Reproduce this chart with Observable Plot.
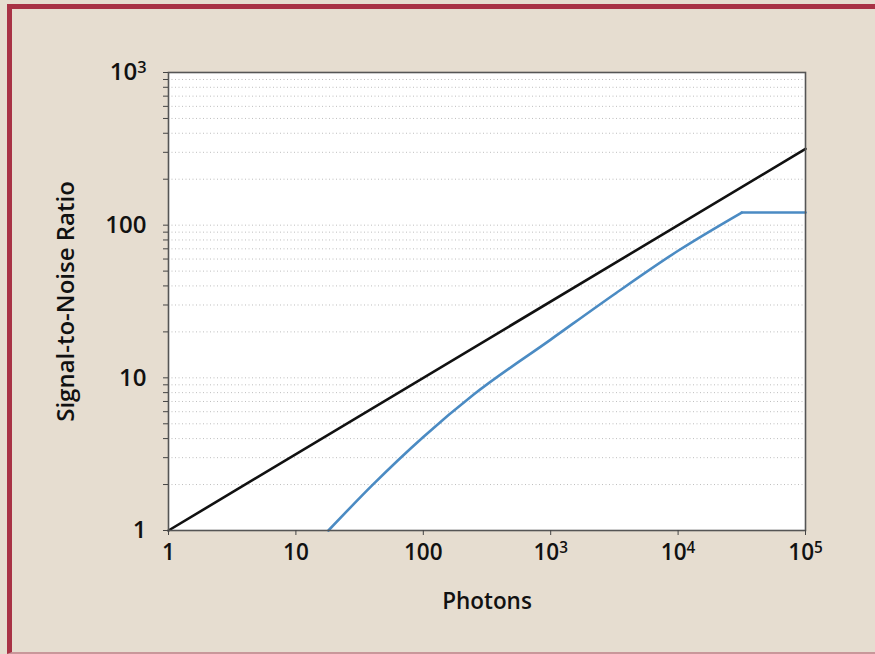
<!DOCTYPE html>
<html>
<head>
<meta charset="utf-8">
<script src="https://cdn.jsdelivr.net/npm/d3@7"></script>
<script src="https://cdn.jsdelivr.net/npm/@observablehq/plot@0.6"></script>
<style>
  html, body { margin: 0; padding: 0; width: 875px; height: 654px; overflow: hidden; background: #e6ddd0; }
  #border { position: absolute; left: 7px; top: 4px; width: 900px; height: 643px; border-top: 5px solid #a83245; border-left: 5px solid #a83245; border-bottom: 2px solid #c9979a; }
  #chart { position: absolute; left: 0; top: 0; }
</style>
</head>
<body>
<div id="border"></div>
<div id="chart"></div>
<script>
// Ideal (shot-noise-limited) detector
const idealPhotons = [1, 100000];
const idealSNR = [1, 316];

const realPhotons = [18, 40, 100, 250, 1000, 3160, 10000, 31600];
const realSNR =     [1, 1.99, 4.1, 7.8, 17.8, 35.3, 68, 121];
const plateauPhotons = [31600, 100000];
const plateauSNR = [121, 121];

const xTicks = [1, 10, 100, 1000, 10000, 100000];
const xTickLabels = ["1", "10", "100", "10³", "10⁴", "10⁵"];
const yTicks = [1, 10, 100, 1000];
const yTickLabels = ["1", "10", "100", "10³"];

const ideal = idealPhotons.map((p, i) => ({p, s: idealSNR[i]}));
const real = realPhotons.map((p, i) => ({p, s: realSNR[i]}));
const plateau = plateauPhotons.map((p, i) => ({p, s: plateauSNR[i]}));
const yAll = d3.scaleLog().domain([1, 1000]).ticks().filter(v => v > 1 && v < 1000);
const yMinor = yAll.filter(v => !yTicks.includes(v));

const chart = Plot.plot({
  width: 875,
  height: 654,
  marginLeft: 168,
  marginRight: 70,
  marginTop: 72,
  marginBottom: 124,
  style: {background: "transparent", fontFamily: "'Open Sans', Lato, sans-serif", fontSize: "19px", fontWeight: "600", color: "#111"},
  x: {type: "log", domain: [1, 100000]},
  y: {type: "log", domain: [1, 1000]},
  marks: [
    Plot.frame({fill: "white", stroke: null}),
    Plot.gridY(yAll, {stroke: "#a8a8a8", strokeOpacity: 0.75, strokeDasharray: "1,2.5", strokeWidth: 1}),
    Plot.line(real, {x: "p", y: "s", stroke: "#4b8bc3", strokeWidth: 2.6, curve: "monotone-x"}),
    Plot.line(plateau, {x: "p", y: "s", stroke: "#4b8bc3", strokeWidth: 2.6}),
    Plot.line(ideal, {x: "p", y: "s", stroke: "#111", strokeWidth: 2.6}),
    Plot.frame({stroke: "#555", strokeWidth: 1.6}),
    Plot.axisY(yMinor, {tickSize: 5, text: null, stroke: "#444", label: null}),
    Plot.axisY(yTicks, {tickSize: 5, tickPadding: 17, stroke: "#444",
      tickFormat: d => yTickLabels[yTicks.indexOf(d)],
      label: "Signal-to-Noise Ratio", labelAnchor: "center", labelArrow: "none", labelOffset: 112, fontSize: 24}),
    Plot.axisX(xTicks, {tickSize: 5, tickPadding: 9, stroke: "#444",
      tickFormat: d => xTickLabels[xTicks.indexOf(d)],
      label: "Photons", labelAnchor: "center", labelArrow: "none", labelOffset: 78, fontSize: 22.5})
  ]
});

// Render exponent labels with larger raised superscripts, as in the original
const supMap = {"³": "3", "⁴": "4", "⁵": "5"};
d3.select(chart).selectAll("text").each(function() {
  const t = this.textContent;
  const m = /^10([³⁴⁵])$/.exec(t);
  if (m && this.children.length === 0) {
    const sel = d3.select(this);
    sel.text(null);
    sel.append("tspan").text("10");
    sel.append("tspan").attr("font-size", "0.68em").attr("baseline-shift", "45%").text(supMap[m[1]]);
  }
});
document.getElementById("chart").appendChild(chart);
</script>
</body>
</html>
